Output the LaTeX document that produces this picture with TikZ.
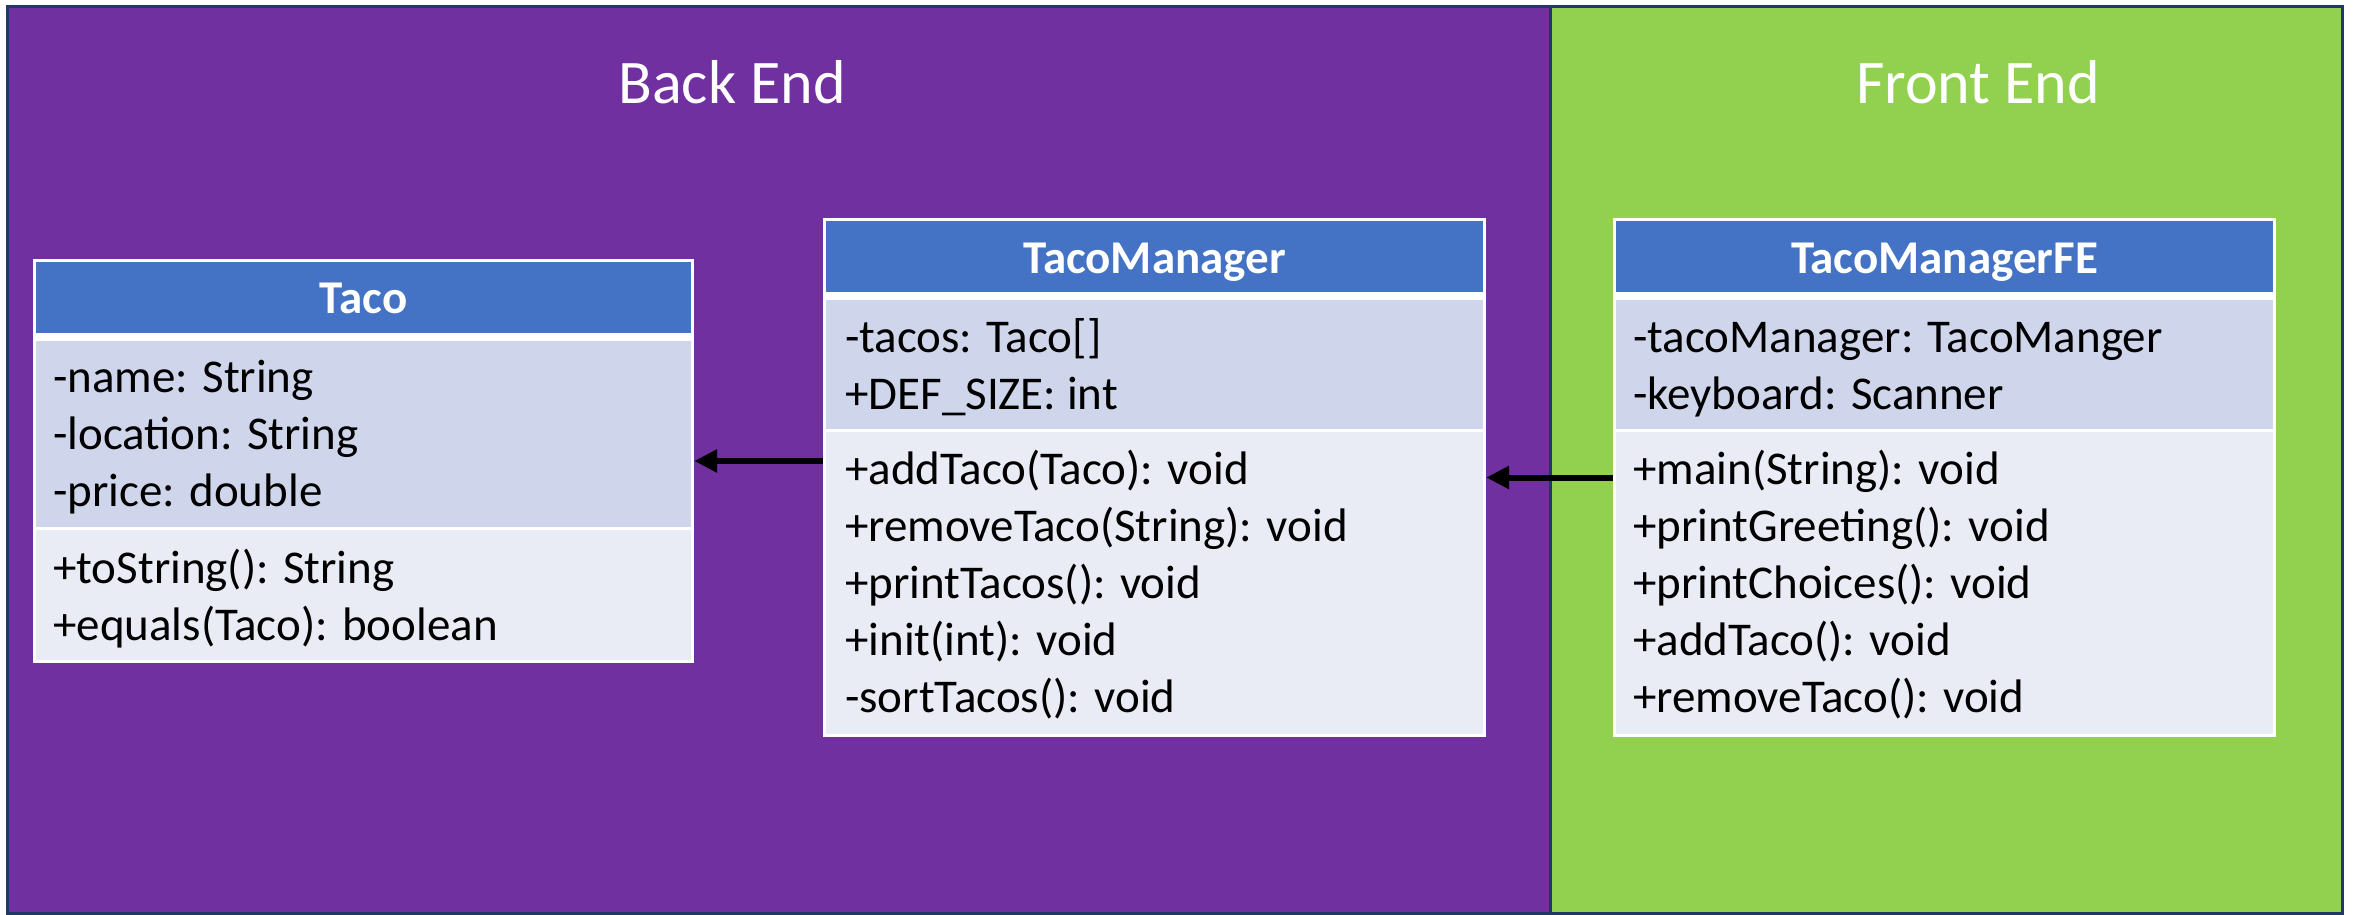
\documentclass[tikz,border=0pt]{standalone}
\usepackage{fontspec}
\setmainfont{Carlito}
\usetikzlibrary{arrows.meta}

\definecolor{backpurple}{HTML}{7030A0}
\definecolor{frontgreen}{HTML}{92D050}
\definecolor{framenavy}{HTML}{1F3864}
\definecolor{headblue}{HTML}{4472C4}
\definecolor{attrband}{HTML}{CFD5EA}
\definecolor{methband}{HTML}{E9EBF5}

\tikzset{
  member/.style={anchor=base west, inner sep=0pt, text=black,
    font=\fontsize{47}{57}\selectfont},
  classtitle/.style={anchor=base, inner sep=0pt, text=white,
    font=\fontsize{47}{57}\selectfont\bfseries},
  zonetitle/.style={anchor=base, inner sep=0pt, text=white,
    font=\fontsize{62}{75}\selectfont},
  classframe/.style={rectangle, fill=white, draw=none, inner sep=0pt},
  conn/.style={line width=6pt, draw=black, -{Triangle[length=23pt,width=22pt]}},
}

% #1 name, #2 left, #3 top, #4 right, #5 header bottom, #6 attribute bottom, #7 bottom
\newcommand\classbox[7]{%
  \node[classframe, minimum width={#4-#2}, minimum height={#7-#3}]
    (#1) at ({(#2+#4)/2},{(#3+#7)/2}) {};
  \fill[headblue] ({#2+3},{#3+3}) rectangle ({#4-3},{#5});
  \fill[attrband] ({#2+3},{#5+8}) rectangle ({#4-3},{#6});
  \fill[methband] ({#2+3},{#6+3}) rectangle ({#4-3},{#7-3});
}

% #1 name prefix, #2 left, #3 first baseline, #4 lines
\newcommand\memberlist[4]{%
  \foreach \txt [count=\k] in {#4} {%
    \node[member] (#1\k) at ({#2},{#3+57*(\k-1)}) {\txt};
  }%
}

\begin{document}
\begin{tikzpicture}[x=1pt,y=-1pt]
  \useasboundingbox (0,0) rectangle (2356,915);

  % the two zones
  \fill[backpurple] (7,7) rectangle (1550,913);
  \fill[frontgreen] (1550,7) rectangle (2342,913);
  \draw[framenavy, line width=3pt] (7,7) rectangle (2342,913);
  \draw[framenavy, line width=3pt] (1550,7) -- (1550,913);

  \node[zonetitle] (backend) at (732,104) {Back End};
  \node[zonetitle] (frontend) at (1978,104) {Front End};

  % Taco
  \classbox{taco}{33}{259}{694}{333}{527}{663}
  \node[classtitle] (taconame) at (363.5,313) {Taco};
  \memberlist{tacoattr}{53}{392}{-name: String, -location: String, -price: double}
  \memberlist{tacometh}{53}{583}{+toString(): String, +equals(Taco): boolean}

  % TacoManager
  \classbox{mgr}{823}{218}{1486}{292}{429}{737}
  \node[classtitle] (mgrname) at (1154.5,273) {TacoManager};
  \memberlist{mgrattr}{845}{352}{-tacos: Taco[], +DEF\_SIZE: int}
  \memberlist{mgrmeth}{845}{484}{+addTaco(Taco): void, +removeTaco(String): void,
    +printTacos(): void, +init(int): void, -sortTacos(): void}

  % TacoManagerFE
  \classbox{fe}{1613}{218}{2276}{292}{429}{737}
  \node[classtitle] (fename) at (1944.5,273) {TacoManagerFE};
  \memberlist{feattr}{1633}{352}{-tacoManager: TacoManger, -keyboard: Scanner}
  \memberlist{femeth}{1633}{484}{+main(String): void, +printGreeting(): void,
    +printChoices(): void, +addTaco(): void, +removeTaco(): void}

  % dependencies
  \draw[conn] (mgr.west |- taco.east) -- (taco.east);
  \draw[conn] (fe.west) -- (mgr.east);
\end{tikzpicture}
\end{document}
